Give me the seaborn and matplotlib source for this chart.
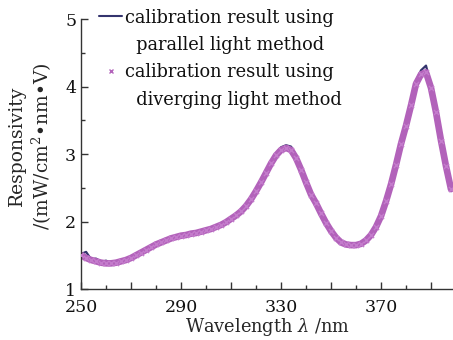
import numpy as np
import pandas as pd
import matplotlib
matplotlib.use('Agg')
import matplotlib.pyplot as plt
import seaborn as sns
from matplotlib.lines import Line2D
from matplotlib.ticker import MultipleLocator

# wavelength grid (nm), read every 2 nm from the picture
wavelength = list(range(250, 400, 2))

# parallel light method (dark line)
parallel = [1.52, 1.55, 1.44, 1.45, 1.40, 1.42, 1.38, 1.41, 1.42, 1.45,
            1.47, 1.51, 1.55, 1.59, 1.63, 1.67, 1.70, 1.73, 1.76, 1.78,
            1.81, 1.81, 1.83, 1.85, 1.86, 1.88, 1.90, 1.93, 1.96, 2.00,
            2.05, 2.10, 2.17, 2.25, 2.36, 2.47, 2.60, 2.75, 2.89, 3.01,
            3.10, 3.13, 3.11, 2.98, 2.80, 2.60, 2.42, 2.28, 2.13, 1.99,
            1.87, 1.77, 1.70, 1.67, 1.66, 1.66, 1.68, 1.73, 1.81, 1.93,
            2.10, 2.32, 2.58, 2.87, 3.18, 3.46, 3.76, 4.08, 4.24, 4.31,
            4.02, 3.64, 3.22, 2.84, 2.50]

# diverging light method (pink crosses)
diverging = [1.50, 1.46, 1.43, 1.41, 1.39, 1.38, 1.38, 1.39, 1.41, 1.43,
             1.46, 1.50, 1.54, 1.58, 1.62, 1.66, 1.69, 1.72, 1.75, 1.77,
             1.79, 1.80, 1.82, 1.83, 1.85, 1.87, 1.89, 1.92, 1.95, 1.99,
             2.04, 2.09, 2.15, 2.23, 2.33, 2.45, 2.58, 2.72, 2.86, 2.98,
             3.06, 3.09, 3.06, 2.94, 2.77, 2.58, 2.40, 2.27, 2.12, 1.98,
             1.86, 1.76, 1.69, 1.66, 1.65, 1.65, 1.67, 1.72, 1.80, 1.92,
             2.08, 2.30, 2.55, 2.84, 3.15, 3.42, 3.72, 4.04, 4.18, 4.21,
             3.98, 3.62, 3.20, 2.82, 2.48]

df = pd.DataFrame({'wl': wavelength, 'par': parallel, 'div': diverging})

sns.set_theme(style="ticks")
plt.rcParams['font.family'] = ['DejaVu Serif']
plt.rcParams['mathtext.fontset'] = 'dejavuserif'
plt.rcParams['text.color'] = '#111111'

dark = '#34346e'
pink = '#b262ba'

fig = plt.figure(figsize=(4.53, 3.4), dpi=100)
ax = fig.add_axes([0.179, 0.15, 0.821, 0.794])

sns.lineplot(data=df, x='wl', y='par', color=dark, linewidth=1.6, ax=ax)
# dense band of crosses
sns.lineplot(data=df, x='wl', y='div', color=pink, linewidth=4.8, ax=ax)
sns.scatterplot(data=df, x='wl', y='div', color='#c47ccc', marker='x', s=14,
                linewidth=1.0, ax=ax, zorder=3)

ax.set_xlim(250, 398.8)
ax.set_ylim(1, 5)
ax.set_xticks(list(range(250, 400, 20)))
ax.set_xticklabels(['250', '', '290', '', '330', '', '370', ''])
ax.xaxis.set_minor_locator(MultipleLocator(10))
ax.set_yticks([1, 2, 3, 4, 5])
ax.yaxis.set_minor_locator(MultipleLocator(0.5))
ax.tick_params(which='both', direction='in', labelsize=12.5, width=1,
               color='#333333', labelcolor='#111111')
ax.tick_params(which='major', length=5)
ax.tick_params(which='minor', length=3)
ax.tick_params(axis='x', pad=7)
for s in ['top', 'right']:
    ax.spines[s].set_visible(False)
for s in ['left', 'bottom']:
    ax.spines[s].set_color('#333333')
    ax.spines[s].set_linewidth(1)

ax.set_xlabel('Wavelength $\\lambda$ /nm', fontsize=12.8, labelpad=0)
ax.set_ylabel('Responsivity\n/(mW/cm$^2$•nm•V)', fontsize=13.5,
              linespacing=1.25)
ax.yaxis.set_label_coords(-0.072, 0.53)

blank = Line2D([], [], linestyle='none')
handles = [Line2D([], [], color=dark, linewidth=1.5), blank,
           Line2D([], [], color=pink, marker='x', linestyle='none', markersize=3),
           blank]
labels = ['calibration result using', '  parallel light method',
          'calibration result using', '  diverging light method']
leg = ax.legend(handles, labels, loc='upper left', bbox_to_anchor=(0.03, 1.065),
                frameon=False, fontsize=12.8, handlelength=1.3, handletextpad=0.15,
                labelspacing=0.53, borderaxespad=0)

fig.savefig('out.png', dpi=100)
